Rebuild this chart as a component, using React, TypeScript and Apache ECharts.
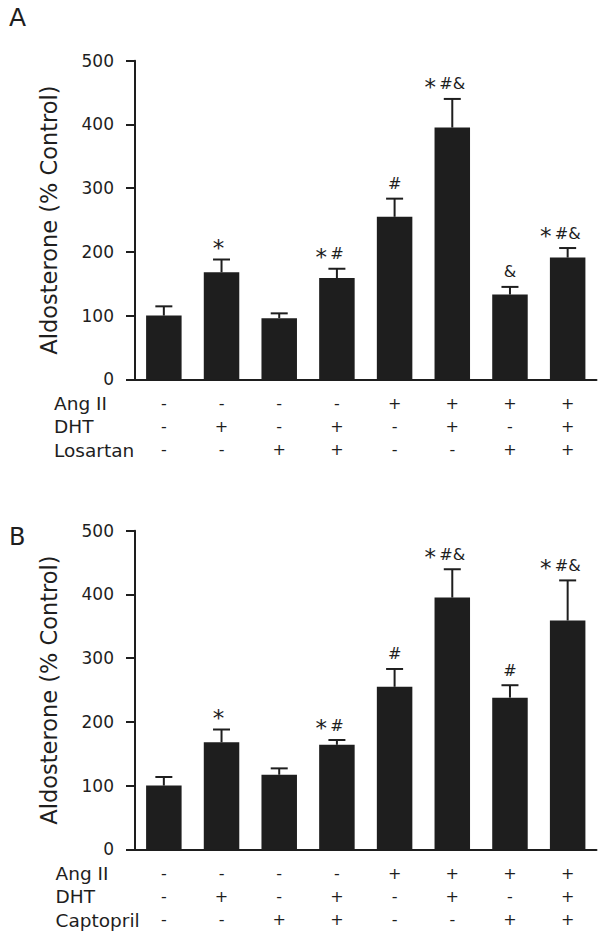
import React, { useEffect, useRef } from 'react';
import * as echarts from 'echarts';

// ---- data ----
const groups = ['G1', 'G2', 'G3', 'G4', 'G5', 'G6', 'G7', 'G8'];
const angII = ['-', '-', '-', '-', '+', '+', '+', '+'];
const dht = ['-', '+', '-', '+', '-', '+', '-', '+'];
const losartan = ['-', '-', '+', '+', '-', '-', '+', '+'];
const captopril = ['-', '-', '+', '+', '-', '-', '+', '+'];

const meanA = [100, 168, 96, 159, 255, 395, 133, 191];
const semA = [14.5, 20, 7.5, 14.5, 28.5, 45, 12, 15];
const sigA = ['', '*', '', '*#', '#', '*#&', '&', '*#&'];

const meanB = [100, 168, 117, 164, 255, 395, 238, 359];
const semB = [13.5, 20, 10, 7.5, 28, 44.5, 19.5, 63];
const sigB = ['', '*', '', '*#', '#', '*#&', '#', '*#&'];

const yTicks = [0, 100, 200, 300, 400, 500];

const FONT = 'DejaVu Sans';
const INK = '#1e1e1e';

let measureCtx: CanvasRenderingContext2D | null = null;
function textWidth(t: string, font: string) {
  if (!measureCtx) measureCtx = document.createElement('canvas').getContext('2d');
  if (!measureCtx) return t.length * 10;
  measureCtx.font = font;
  return measureCtx.measureText(t).width;
}

function makeRender(means: number[], sems: number[], sigs: string[]) {
  return (params: any, api: any) => {
    const i = params.dataIndex;
    const base = api.coord([i, means[i]]);
    const top = api.coord([i, means[i] + sems[i]]);
    const cx = base[0];
    const children: any[] = [
      { type: 'line', shape: { x1: cx, y1: base[1], x2: cx, y2: top[1] }, style: { stroke: INK, lineWidth: 2 } },
      { type: 'line', shape: { x1: cx - 8.5, y1: top[1], x2: cx + 8.5, y2: top[1] }, style: { stroke: INK, lineWidth: 2 } },
    ];
    const sig = sigs[i];
    if (sig) {
      const hasStar = sig.charAt(0) === '*';
      const rest = hasStar ? sig.slice(1) : sig;
      const ty = top[1] - 15;
      const restFont = '16px "DejaVu Sans"';
      const rw = rest ? textWidth(rest, restFont) : 0;
      if (rest) {
        children.push({
          type: 'text',
          x: cx,
          y: ty,
          style: { text: rest, font: restFont, fill: INK, align: 'center', textAlign: 'center', verticalAlign: 'middle', textVerticalAlign: 'middle' },
        });
      }
      if (hasStar) {
        const sx = rest ? cx - rw / 2 - 9 : cx - 3;
        children.push({
          type: 'text',
          x: sx,
          y: ty + 3,
          style: { text: '*', font: '23px "DejaVu Sans"', fill: INK, align: 'center', textAlign: 'center', verticalAlign: 'middle', textVerticalAlign: 'middle' },
        });
      }
    }
    return { type: 'group', children };
  };
}

function panel(idx: number, top: number, means: number[], sems: number[], sigs: string[], third: string[]) {
  const grid = { left: 135, right: 7.5, top, height: 318.6, containLabel: false };
  const xAxis = {
    type: 'category',
    gridIndex: idx,
    data: groups,
    axisLine: { lineStyle: { color: INK, width: 2 } },
    axisTick: { show: false },
    axisLabel: {
      interval: 0,
      margin: 12.3,
      fontFamily: FONT,
      fontSize: 16,
      color: INK,
      lineHeight: 23.33,
      formatter: (_v: string, i: number) => `${angII[i]}\n${dht[i]}\n${third[i]}`,
    },
  };
  const yAxis = {
    type: 'value',
    gridIndex: idx,
    min: yTicks[0],
    max: yTicks[yTicks.length - 1],
    interval: 100,
    name: 'Aldosterone (% Control)',
    nameLocation: 'middle',
    nameGap: 75,
    nameTextStyle: { fontFamily: FONT, fontSize: 22.5, color: INK },
    axisLine: { show: true, lineStyle: { color: INK, width: 2 } },
    axisTick: { show: true, length: 9, lineStyle: { color: INK, width: 2 } },
    axisLabel: { margin: 21, fontFamily: FONT, fontSize: 17, color: INK },
    splitLine: { show: false },
  };
  const series = [
    {
      type: 'bar',
      xAxisIndex: idx,
      yAxisIndex: idx,
      data: means,
      barWidth: 35.5,
      itemStyle: { color: INK },
      silent: true,
    },
    {
      type: 'custom',
      xAxisIndex: idx,
      yAxisIndex: idx,
      data: means.map((m, i) => [i, m + sems[i]]),
      encode: { x: 0, y: 1 },
      renderItem: makeRender(means, sems, sigs),
      z: 3,
      silent: true,
    },
  ];
  return { grid, xAxis, yAxis, series };
}

export default function App() {
  const ref = useRef<HTMLDivElement>(null);
  useEffect(() => {
    document.body.style.margin = '0';
    if (!ref.current) return;
    const chart = echarts.init(ref.current, undefined, { renderer: 'svg' });
    const a = panel(0, 60.7, meanA, semA, sigA, losartan);
    const b = panel(1, 530.7, meanB, semB, sigB, captopril);
    const rowLabel = (text: string, x: number, y: number) => ({
      type: 'text',
      x,
      y,
      style: { text, fontFamily: FONT, fontSize: 18.5, fill: INK, verticalAlign: 'middle', textVerticalAlign: 'middle' },
    });
    chart.setOption({
      animation: false,
      backgroundColor: '#ffffff',
      grid: [a.grid, b.grid],
      xAxis: [a.xAxis, b.xAxis],
      yAxis: [a.yAxis, b.yAxis],
      series: [...a.series, ...b.series],
      graphic: [
        { type: 'text', x: 9, y: 5, style: { text: 'A', fontFamily: FONT, fontSize: 25, fill: INK } },
        { type: 'text', x: 9, y: 525, style: { text: 'B', fontFamily: FONT, fontSize: 24, fill: INK } },
        rowLabel('Ang II', 54, 403.3),
        rowLabel('DHT', 54, 426.7),
        rowLabel('Losartan', 54, 450),
        rowLabel('Ang II', 55.5, 873.3),
        rowLabel('DHT', 55.5, 896.7),
        rowLabel('Captopril', 55.5, 920),
      ],
    });
    return () => chart.dispose();
  }, []);
  return <div ref={ref} style={{ width: 604, height: 950 }} />;
}
